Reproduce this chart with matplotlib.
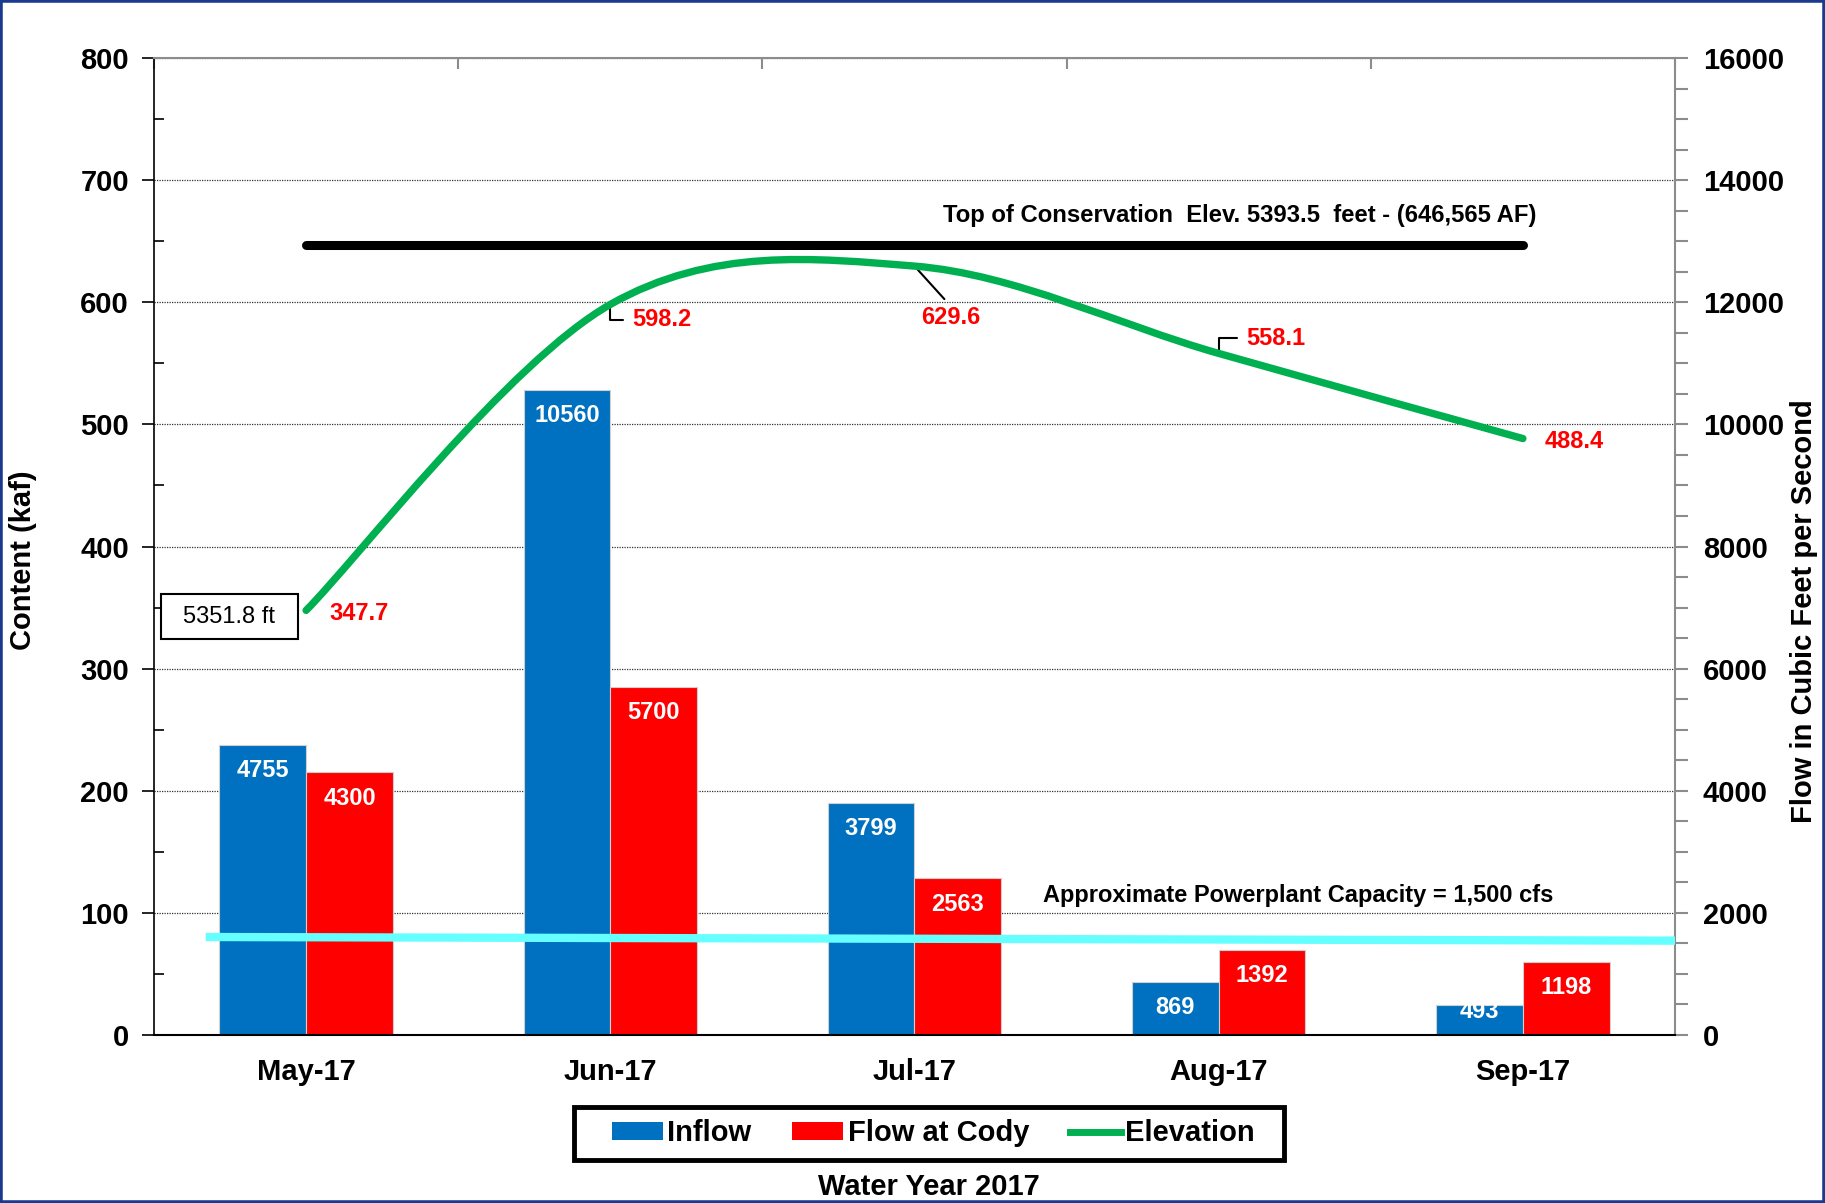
import numpy as np
import matplotlib.pyplot as plt
from matplotlib.path import Path
from matplotlib.patches import PathPatch, Patch, Rectangle
from matplotlib.lines import Line2D
from matplotlib.ticker import MultipleLocator, FixedLocator

plt.rcParams['font.family'] = ['Liberation Sans', 'DejaVu Sans']
plt.rcParams['font.weight'] = 'bold'

months = ['May-17', 'Jun-17', 'Jul-17', 'Aug-17', 'Sep-17']
inflow = [4755, 10560, 3799, 869, 493]
flow_cody = [4300, 5700, 2563, 1392, 1198]
content = [347.7, 598.2, 629.6, 558.1, 488.4]
start_elev = '5351.8 ft'
top_conservation = 646.565
powerplant_x = [-0.33, 4.5]
powerplant_cfs = [1605, 1545]

blue = '#0070C0'
red = '#FF0000'
green = '#00B050'
cyan = '#66FFFF'
gray = '#8c8c8c'

fig = plt.figure(figsize=(18.25, 12.03), dpi=100)
ax = fig.add_axes([154 / 1825, 1 - 1035 / 1203, 1521 / 1825, 977 / 1203])
ax2 = ax.twinx()
ax.set_zorder(ax2.get_zorder() + 1)
ax.patch.set_visible(False)

x = np.arange(len(months))
w = 0.285

# bars + grid on the flow axis (grid lines line up with the left axis)
ax2.set_ylim(0, 16000)
ax2.set_axisbelow(True)
ax2.grid(True, axis='y', color='#333333', linestyle=(0, (1, 1)), linewidth=0.9)
ax2.bar(x - w / 2, inflow, w, color=blue, edgecolor='#d0d0d0', linewidth=0.8, zorder=2)
ax2.bar(x + w / 2, flow_cody, w, color=red, edgecolor='#d0d0d0', linewidth=0.8, zorder=2)
for xi, v in zip(x - w / 2, inflow):
    ax2.text(xi, max(v - 420, 380), str(v), ha='center', va='center',
             color='white', fontsize=17, zorder=3)
for xi, v in zip(x + w / 2, flow_cody):
    ax2.text(xi, max(v - 420, 380), str(v), ha='center', va='center',
             color='white', fontsize=17, zorder=3)
ax2.plot(powerplant_x, powerplant_cfs, color=cyan, linewidth=6, zorder=4,
         solid_capstyle='butt')

ax2.yaxis.set_major_locator(MultipleLocator(2000))
ax2.yaxis.set_minor_locator(MultipleLocator(500))
ax2.tick_params(axis='y', which='both', direction='out', length=9, width=1.5,
                color=gray, labelsize=21, pad=11)
for s in ['top', 'bottom', 'left']:
    ax2.spines[s].set_visible(False)
ax2.spines['right'].set_color(gray)
ax2.spines['right'].set_linewidth(1.5)

# content axis
ax.set_xlim(-0.5, 4.5)
ax.set_ylim(0, 800)
ax.yaxis.set_major_locator(MultipleLocator(100))
ax.yaxis.set_minor_locator(MultipleLocator(50))
ax.tick_params(axis='y', which='major', direction='out', length=9, width=1.2,
               labelsize=21, pad=9)
ax.tick_params(axis='y', which='minor', direction='in', length=7, width=1.2)
ax.set_xticks(x)
ax.set_xticklabels(months)
ax.tick_params(axis='x', which='major', length=0, labelsize=21, pad=16.5)
ax.xaxis.set_minor_locator(FixedLocator(np.arange(-0.5, 5, 1)))
ax.tick_params(axis='x', which='minor', top=True, bottom=False, direction='in',
               length=8, width=1.5, color=gray)
ax.spines['right'].set_visible(False)
ax.spines['top'].set_color(gray)
ax.spines['top'].set_linewidth(1.5)
ax.spines['left'].set_linewidth(1.2)
ax.spines['bottom'].set_linewidth(1.5)

fig.text(0.0126, 0.5345, 'Content (kaf)', rotation=90, ha='center', va='center',
         fontsize=21, fontweight='bold')
fig.text(0.9885, 0.4916, 'Flow in Cubic Feet per Second', rotation=90, ha='center',
         va='center', fontsize=21, fontweight='bold')

# top of conservation line
ax.plot([x[0], x[-1]], [top_conservation, top_conservation], color='black',
        linewidth=6.5, solid_capstyle='round', zorder=3)
ax.text(3.07, 671, 'Top of Conservation  Elev. 5393.5  feet - (646,565 AF)',
        ha='center', va='center', fontsize=17.2)
ax.text(3.26, 114.6, 'Approximate Powerplant Capacity = 1,500 cfs',
        ha='center', va='center', fontsize=17)

# smoothed elevation curve through the monthly values (bezier, like Excel smoothing)
pts = np.column_stack([x, content]).astype(float)
n = len(pts)
verts = [pts[0]]
codes = [Path.MOVETO]
for i in range(n - 1):
    p0, p1, p2, p3 = pts[max(i - 1, 0)], pts[i], pts[i + 1], pts[min(i + 2, n - 1)]
    verts += [p1 + (p2 - p0) / 6, p2 - (p3 - p1) / 6, p2]
    codes += [Path.CURVE4] * 3
ax.add_patch(PathPatch(Path(verts, codes), fill=False, edgecolor=green,
                       linewidth=5.3, capstyle='round', zorder=4))

# value labels for the elevation curve
lab = dict(color=red, fontsize=17, textcoords='offset points')
ax.annotate(f'{content[0]}', (x[0], content[0]), xytext=(17, -2), ha='left', va='center', **lab)
ax.annotate(f'{content[1]}', (x[1], content[1]), xytext=(16, -11), ha='left', va='center',
            arrowprops=dict(arrowstyle='-', color='black', lw=1.5, relpos=(0, 0.5),
                            connectionstyle='angle,angleA=0,angleB=90,rad=0',
                            shrinkA=5, shrinkB=2), **lab)
ax.annotate(f'{content[2]}', (x[2], content[2]), xytext=(26, -37), ha='center', va='center',
            arrowprops=dict(arrowstyle='-', color='black', lw=1.5, relpos=(0.5, 1.0),
                            shrinkA=4, shrinkB=0), **lab)
ax.annotate(f'{content[3]}', (x[3], content[3]), xytext=(20, 11), ha='left', va='center',
            arrowprops=dict(arrowstyle='-', color='black', lw=1.5, relpos=(0, 0.5),
                            connectionstyle='angle,angleA=0,angleB=90,rad=0',
                            shrinkA=5, shrinkB=2), **lab)
ax.annotate(f'{content[4]}', (x[4], content[4]), xytext=(16, -2), ha='left', va='center', **lab)

# starting elevation box
ax.add_patch(Rectangle((0.0044, 0.405), 0.090, 0.046, transform=ax.transAxes,
                       facecolor='white', edgecolor='black', linewidth=1.5, zorder=5))
ax.text(0.0044 + 0.045, 0.405 + 0.023, start_elev, transform=ax.transAxes,
        ha='center', va='center', fontsize=17, fontweight='normal', zorder=6)

handles = [Patch(facecolor=blue, label='Inflow'),
           Patch(facecolor=red, label='Flow at Cody'),
           Line2D([], [], color=green, linewidth=5, label='Elevation')]
fig.legend(handles=handles, loc='center', bbox_to_anchor=(0.5115, 0.058), ncol=3,
           fontsize=21, frameon=False, handlelength=1.75, handleheight=0.55,
           handletextpad=0.15, columnspacing=1.4)
fig.patches.append(Rectangle((0.3145, 0.0354), 0.389, 0.0445, transform=fig.transFigure,
                             fill=False, edgecolor='black', linewidth=3.5))

fig.text(0.509, 0.0133, 'Water Year 2017', ha='center', va='center', fontsize=21)

fig.patches.append(Rectangle((0, 0), 1, 1, transform=fig.transFigure, fill=False,
                             edgecolor='#1a3a8f', linewidth=4))

fig.savefig('out.png', dpi=100)
